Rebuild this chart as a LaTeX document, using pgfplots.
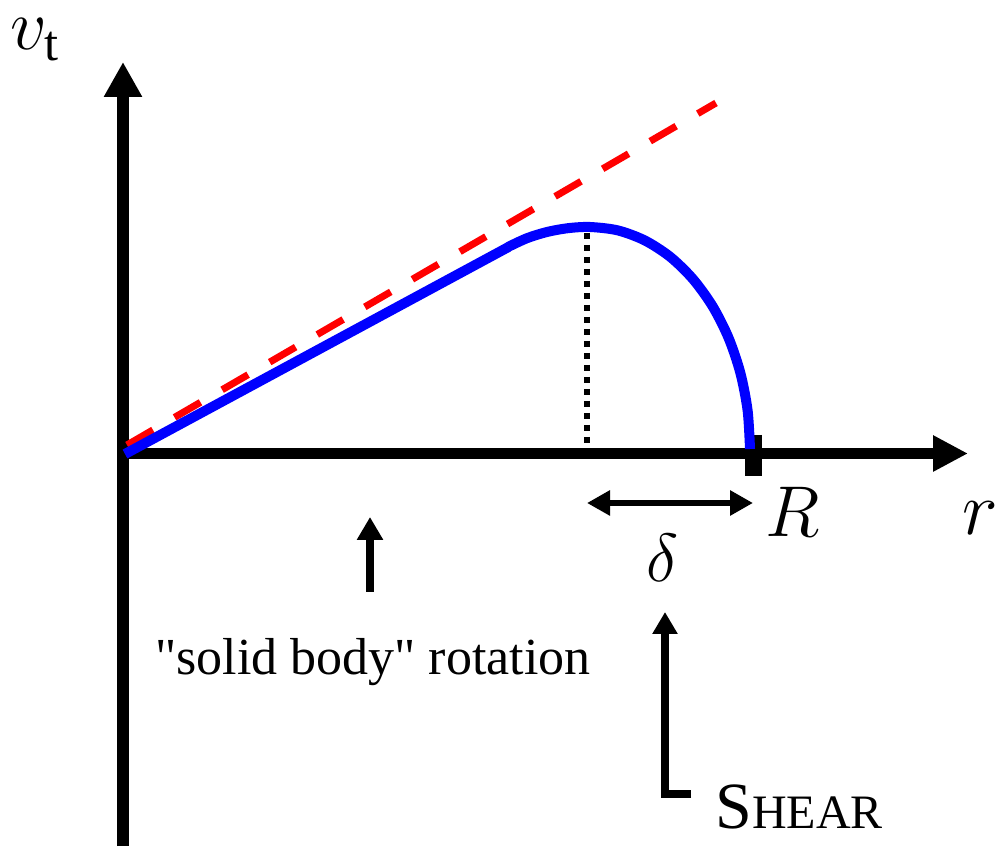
\RequirePackage{fix-cm}
\documentclass[border=0pt]{standalone}
\usepackage{fontspec}
\setmainfont{Liberation Serif}
\usepackage{pgfplots}
\pgfplotsset{compat=1.18}
\usetikzlibrary{arrows.meta}
\begin{document}
\begin{tikzpicture}
\begin{axis}[x=0.5pt,y=0.5pt,xmin=0,xmax=995,ymin=-846,ymax=0,hide axis,clip=false,no markers]
\coordinate (bl) at (axis cs:0,-846);
\coordinate (tr) at (axis cs:995,0);
% axes
\addplot[black, line width=6pt, -{Triangle[length=17.5pt,width=18pt]}] coordinates {(123,-846)(123,-62)};
\addplot[black, line width=5.75pt, -{Triangle[length=17.5pt,width=17pt]}] coordinates {(117,-453.5)(968,-453.5)};
% tick at R
\addplot[black, line width=8.5pt] coordinates {(753.5,-435)(753.5,-476)};
% red dashed solid-body line
\addplot[color={rgb,255:red,255;green,0;blue,0}, line width=3.5pt, dash pattern=on 15pt off 12.5pt] coordinates {(127,-445)(716,-103)};
% dotted line at peak
\addplot[black, line width=3pt, dash pattern=on 3pt off 3pt] coordinates {(587,-233)(587,-448)};
% blue velocity profile: straight part
\addplot[color={rgb,255:red,0;green,0;blue,255}, line width=5pt, line cap=butt] coordinates {
(125,-454)(508.5,-247)};
% blue velocity profile: curved part
\addplot[color={rgb,255:red,0;green,0;blue,255}, line width=5pt, smooth, tension=0.5] coordinates {
(508,-247)(527,-238.2)(547,-232)(568,-228.2)(590,-227)
(617.8,-230.4)(644.7,-240.4)(670,-256.7)(692.8,-278.9)(712.6,-306.3)
(728.6,-338)(740.4,-373.1)(747.6,-410.5)(750,-449)};
% delta double arrow
\addplot[black, line width=3pt, {Triangle[length=11.5pt,width=12pt]}-{Triangle[length=11.5pt,width=12pt]}] coordinates {(587,-503)(753,-503)};
% solid body arrow
\addplot[black, line width=4pt, -{Triangle[length=11.5pt,width=12.5pt]}] coordinates {(370,-592)(370,-517)};
% shear arrow
\addplot[black, line width=4pt, line join=miter, -{Triangle[length=11pt,width=12pt]}] coordinates {(691,-794)(665,-794)(665,-612)};
% labels
\node[anchor=base, inner sep=0pt] at (axis cs:373,-675) {\fontsize{26}{30}\selectfont \textquotedbl solid body\textquotedbl{} rotation};
\node[anchor=base west, inner sep=0pt] at (axis cs:715,-828) {\fontsize{33}{38}\selectfont S\fontsize{24}{28}\selectfont HEAR};
\node[anchor=base, inner sep=0pt] at (axis cs:793,-537) {\fontsize{36}{40}\selectfont $R$};
\node[anchor=base west, inner sep=0pt] at (axis cs:962,-535) {\fontsize{38}{42}\selectfont $r$};
\node[anchor=base, inner sep=0pt] at (axis cs:663,-582) {\fontsize{34}{38}\selectfont $\delta$};
\node[anchor=base west, inner sep=0pt] at (axis cs:10,-50) {\fontsize{36}{40}\selectfont $v_{\mathrm{t}}$};
\end{axis}
\pgfresetboundingbox
\path (bl) rectangle (tr);
\end{tikzpicture}
\end{document}
